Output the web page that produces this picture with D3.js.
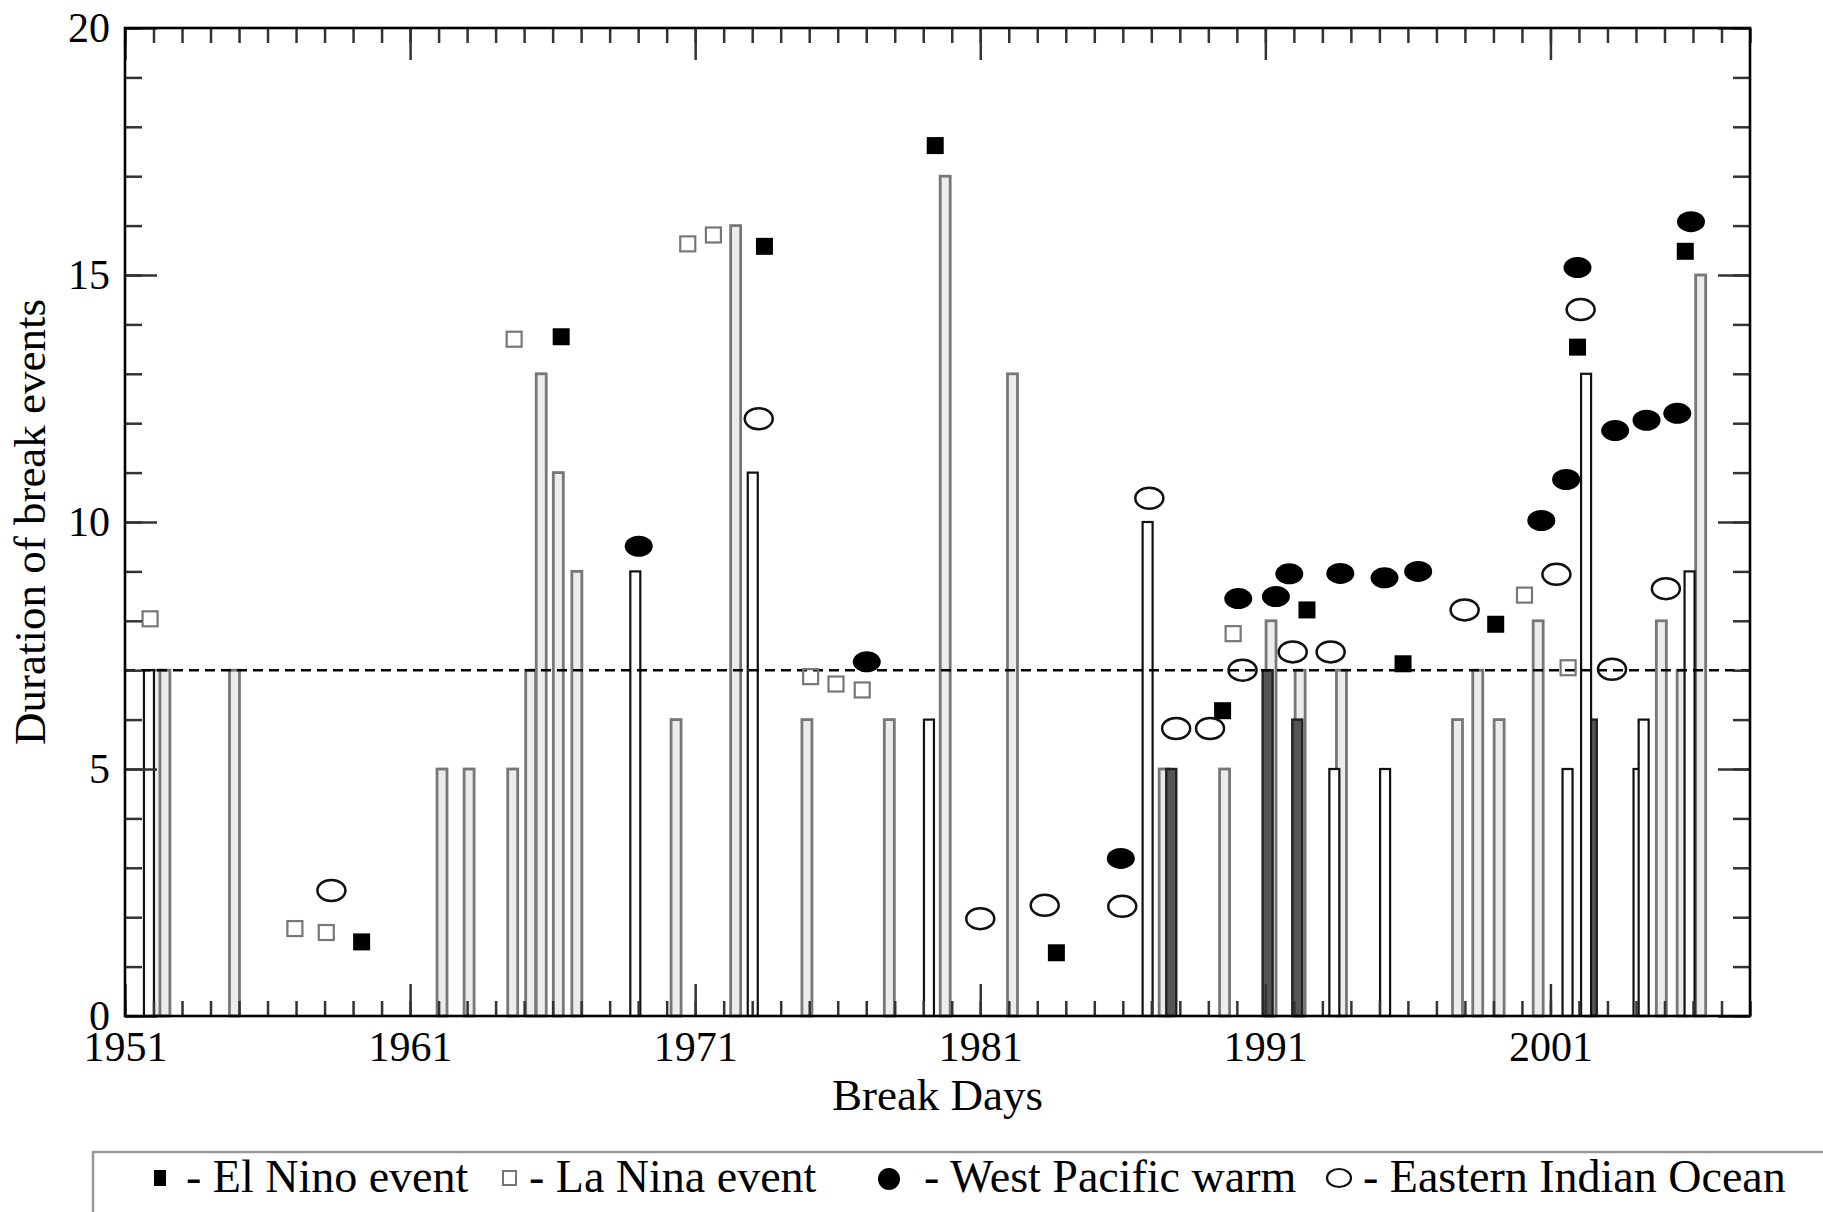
<!DOCTYPE html>
<html>
<head>
<meta charset="utf-8">
<script src="https://cdn.jsdelivr.net/npm/d3@7"></script>
<style>
  body { margin: 0; background: #fff; }
  svg { display: block; font-family: "Liberation Serif", "Times New Roman", serif; }
</style>
</head>
<body>
<div id="chart"></div>
<script>
// break events: [year, duration in days]
const grayBars = [
  [1952.15, 7], [1952.4, 7], [1954.84, 7], [1962.12, 5], [1963.07, 5], [1964.6, 5],
  [1965.23, 7], [1965.6, 13], [1966.2, 11], [1966.85, 9], [1970.33, 6], [1972.42, 16],
  [1974.92, 6], [1977.81, 6], [1979.77, 17], [1982.13, 13], [1987.45, 5], [1989.57, 5],
  [1991.2, 8], [1992.22, 7], [1993.67, 7], [1997.74, 6], [1998.45, 7], [1999.2, 6],
  [2000.57, 8], [2004.89, 8], [2005.62, 7], [2006.27, 15]
]
const darkBars = [[1987.7, 5], [1991.08, 7], [1992.12, 6], [2002.45, 6]]
const blackBars = [
  [1951.84, 7], [1968.9, 9], [1973.02, 11], [1979.2, 6], [1986.87, 10], [1993.42, 5],
  [1995.2, 5], [2001.6, 5], [2002.25, 13], [2004.09, 5], [2004.27, 6], [2005.88, 9]
]

// climate events: [year, value]
const elNino = [
  [1959.3, 1.5], [1966.3, 13.75], [1973.43, 15.58], [1979.42, 17.62], [1983.67, 1.28],
  [1989.5, 6.18], [1992.46, 8.22], [1995.83, 7.13], [1999.08, 7.93], [2001.95, 13.54], [2005.73, 15.48]
]
const laNina = [
  [1951.88, 8.04], [1956.96, 1.77], [1958.06, 1.69], [1964.65, 13.7], [1970.74, 15.63],
  [1971.64, 15.81], [1975.05, 6.87], [1975.94, 6.72], [1976.86, 6.6], [1989.87, 7.74],
  [2000.09, 8.52], [2001.62, 7.05]
]
const westPacific = [
  [1969.02, 9.51], [1977.02, 7.17], [1985.93, 3.19], [1990.05, 8.45], [1991.37, 8.49],
  [1991.84, 8.95], [1993.63, 8.96], [1995.18, 8.87], [1996.36, 9.0], [2000.68, 10.03],
  [2001.55, 10.86], [2001.95, 15.15], [2003.27, 11.85], [2004.37, 12.06], [2005.45, 12.2], [2005.93, 16.08]
]
const eastIndian = [
  [1958.24, 2.54], [1973.23, 12.09], [1981.0, 1.97], [1983.26, 2.24], [1985.98, 2.22],
  [1986.93, 10.48], [1987.87, 5.82], [1989.06, 5.82], [1990.2, 7.0], [1991.96, 7.37],
  [1993.29, 7.37], [1997.99, 8.22], [2001.21, 8.94], [2002.06, 14.3], [2003.16, 7.02], [2005.05, 8.65]
]

const threshold = 7
const xMajorTicks = [1951, 1961, 1971, 1981, 1991, 2001]
const yMajorTicks = [0, 5, 10, 15, 20]

const width = 1823
const height = 1212
const plot = { left: 125, right: 1750, top: 28, bottom: 1016 }

const svg = d3.select('#chart').append('svg')
  .attr('width', width)
  .attr('height', height)
  .attr('viewBox', `0 0 ${width} ${height}`)

const x = d3.scaleLinear().domain([1951, 2008]).range([plot.left, plot.right])
const y = d3.scaleLinear().domain([0, 20]).range([plot.bottom, plot.top])

const barW = 10

function drawBars(data, stroke, fill, sw) {
  svg.append('g')
    .selectAll('rect')
    .data(data)
    .join('rect')
    .attr('x', (d) => x(d[0]) - barW / 2)
    .attr('y', (d) => y(d[1]))
    .attr('width', barW)
    .attr('height', (d) => y(0) - y(d[1]))
    .attr('fill', fill)
    .attr('stroke', stroke)
    .attr('stroke-width', sw)
}

drawBars(grayBars, '#777', '#ececec', 2.8)
drawBars(darkBars, '#222', '#555', 2.4)
drawBars(blackBars, '#111', '#fff', 2.2)

// threshold line
svg.append('line')
  .attr('x1', plot.left)
  .attr('x2', plot.right)
  .attr('y1', y(threshold))
  .attr('y2', y(threshold))
  .attr('stroke', '#000')
  .attr('stroke-width', 2.5)
  .attr('stroke-dasharray', '10,6')

// markers
const sq = 17
svg.append('g').selectAll('rect')
  .data(elNino)
  .join('rect')
  .attr('x', (d) => x(d[0]) - sq / 2)
  .attr('y', (d) => y(d[1]) - sq / 2)
  .attr('width', sq)
  .attr('height', sq)
  .attr('fill', '#000')

svg.append('g').selectAll('rect')
  .data(laNina)
  .join('rect')
  .attr('x', (d) => x(d[0]) - (sq - 2) / 2)
  .attr('y', (d) => y(d[1]) - (sq - 2) / 2)
  .attr('width', sq - 2)
  .attr('height', sq - 2)
  .attr('fill', 'none')
  .attr('stroke', '#777')
  .attr('stroke-width', 2.2)

svg.append('g').selectAll('ellipse')
  .data(westPacific)
  .join('ellipse')
  .attr('cx', (d) => x(d[0]))
  .attr('cy', (d) => y(d[1]))
  .attr('rx', 14)
  .attr('ry', 10.5)
  .attr('fill', '#000')

svg.append('g').selectAll('ellipse')
  .data(eastIndian)
  .join('ellipse')
  .attr('cx', (d) => x(d[0]))
  .attr('cy', (d) => y(d[1]))
  .attr('rx', 14)
  .attr('ry', 10.5)
  .attr('fill', 'none')
  .attr('stroke', '#111')
  .attr('stroke-width', 2.5)

// axes, ticks pointing inward on all sides
function styleAxis(g) {
  g.select('.domain').remove()
  g.selectAll('.tick line').attr('stroke', '#333').attr('stroke-width', 2.5)
  g.selectAll('.tick text')
    .attr('fill', '#000')
    .style('font-size', '42px')
    .style('font-family', '"Liberation Serif", "Times New Roman", serif')
}

const years = d3.range(1951, 2009)
const units = d3.range(0, 21)

svg.append('g').attr('transform', `translate(0,${plot.bottom})`)
  .call(d3.axisBottom(x).tickValues(years).tickSize(-15).tickFormat(''))
  .call(styleAxis)
svg.append('g').attr('transform', `translate(0,${plot.bottom})`)
  .call(d3.axisBottom(x).tickValues(xMajorTicks).tickSize(-32).tickPadding(15).tickFormat(d3.format('d')))
  .call(styleAxis)

svg.append('g').attr('transform', `translate(0,${plot.top})`)
  .call(d3.axisTop(x).tickValues(years).tickSize(-15).tickFormat(''))
  .call(styleAxis)
svg.append('g').attr('transform', `translate(0,${plot.top})`)
  .call(d3.axisTop(x).tickValues(xMajorTicks).tickSize(-32).tickFormat(''))
  .call(styleAxis)

svg.append('g').attr('transform', `translate(${plot.left},0)`)
  .call(d3.axisLeft(y).tickValues(units).tickSize(-17).tickFormat(''))
  .call(styleAxis)
svg.append('g').attr('transform', `translate(${plot.left},0)`)
  .call(d3.axisLeft(y).tickValues(yMajorTicks).tickSize(-32).tickPadding(15).tickFormat(d3.format('d')))
  .call(styleAxis)

svg.append('g').attr('transform', `translate(${plot.right},0)`)
  .call(d3.axisRight(y).tickValues(units).tickSize(-17).tickFormat(''))
  .call(styleAxis)
svg.append('g').attr('transform', `translate(${plot.right},0)`)
  .call(d3.axisRight(y).tickValues(yMajorTicks).tickSize(-32).tickFormat(''))
  .call(styleAxis)

svg.append('rect')
  .attr('x', plot.left)
  .attr('y', plot.top)
  .attr('width', plot.right - plot.left)
  .attr('height', plot.bottom - plot.top)
  .attr('fill', 'none')
  .attr('stroke', '#000')
  .attr('stroke-width', 2.6)

// axis titles
svg.append('text')
  .attr('x', (plot.left + plot.right) / 2)
  .attr('y', 1110)
  .attr('text-anchor', 'middle')
  .style('font-size', '45px')
  .text('Break Days')

svg.append('text')
  .attr('transform', `translate(45,${(plot.top + plot.bottom) / 2}) rotate(-90)`)
  .attr('text-anchor', 'middle')
  .style('font-size', '45px')
  .text('Duration of break events')

// legend box (runs off the page like the original)
svg.append('rect')
  .attr('x', 93)
  .attr('y', 1152)
  .attr('width', 1800)
  .attr('height', 120)
  .attr('fill', 'none')
  .attr('stroke', '#999')
  .attr('stroke-width', 2.5)

const legend = svg.append('g')
const ly = 1178
legend.append('rect').attr('x', 154).attr('y', ly - 8).attr('width', 12).attr('height', 16).attr('fill', '#000')
legend.append('rect').attr('x', 503).attr('y', ly - 7).attr('width', 13).attr('height', 14)
  .attr('fill', 'none').attr('stroke', '#777').attr('stroke-width', 2)
legend.append('ellipse').attr('cx', 889).attr('cy', ly + 1).attr('rx', 11).attr('ry', 11).attr('fill', '#000')
legend.append('ellipse').attr('cx', 1339).attr('cy', ly).attr('rx', 12).attr('ry', 9)
  .attr('fill', 'none').attr('stroke', '#111').attr('stroke-width', 2.2)

const legendText = [
  [186, '- El Nino event'],
  [529, '- La Nina event'],
  [924, '- West Pacific warm'],
  [1363, '- Eastern Indian Ocean']
]
legend.selectAll('text')
  .data(legendText)
  .join('text')
  .attr('x', (d) => d[0])
  .attr('y', 1192)
  .style('font-size', '46px')
  .text((d) => d[1])
</script>
</body>
</html>
